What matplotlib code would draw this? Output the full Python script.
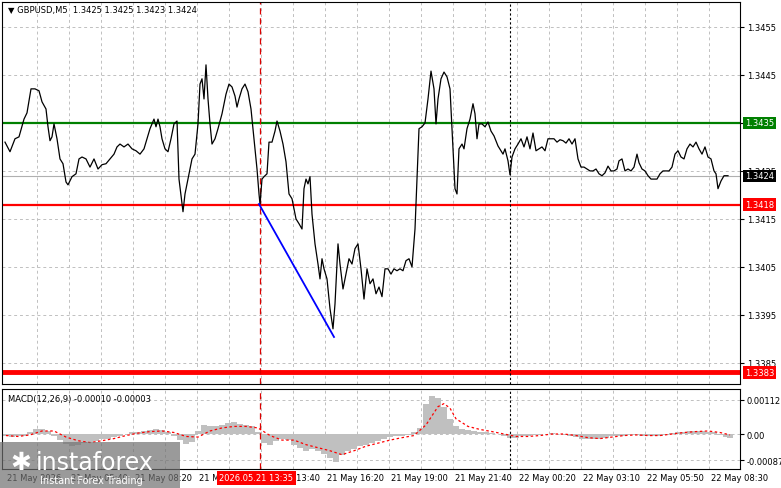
import numpy as np
import matplotlib
matplotlib.use("Agg")
import matplotlib.pyplot as plt
from matplotlib.patches import Rectangle

# ---- data ----
# time position (chart units, 2 units per M5 bar)
t_price = [3,8,13,17,22,25,29,33,37,40,44,46,48,50,52,55,58,61,64,66,70,74,77,80,84,88,92,96,100,104,108,112,115,118,122,126,130,134,138,142,145,148,150,152,154,156,158,160,163,166,169,172,175,177,180,181,183,187,190,193,196,198,200,202,204,206,208,210,213,216,220,224,227,230,233,235,237,240,243,246,249,252,255,257,258,
           260,262,265,267,270,273,275,278,281,284,287,290,294,297,300,302,304,306,308,310,313,316,318,320,322,325,328,331,333,336,338,341,344,347,350,353,356,359,362,365,368,371,374,377,380,383,386,389,392,395,398,401,404,407,410,413,415,417,420,423,426,429,432,434,436,439,442,445,448,451,453,455,457,460,462,465,468,471,473,475,477,480,483,486,489,492,496,499,501,
           503,506,508,510,513,516,519,522,525,528,531,534,537,540,543,546,549,552,555,558,561,564,567,570,573,576,579,582,585,588,591,594,597,600,603,606,609,612,615,617,620,623,626,629,632,635,637,640,643,646,649,652,655,658,661,664,667,670,673,676,679,682,685,688,691,694,697,700,703,706,709,712,714,716,719,722,726]
close = [1.34310,1.34290,1.34317,1.34321,1.34358,1.34371,1.34421,1.34421,1.34417,1.34394,1.34379,1.34342,1.34313,1.34321,1.34348,1.34317,1.34275,1.34265,1.34227,1.34221,1.34238,1.34244,1.34275,1.34279,1.34275,1.34258,1.34275,1.34254,1.34263,1.34265,1.34275,1.34285,1.34300,1.34306,1.34300,1.34306,1.34296,1.34292,1.34285,1.34296,1.34317,1.34338,1.34348,1.34358,1.34342,1.34358,1.34342,1.34317,1.34296,1.34290,1.34317,1.34348,1.34354,1.34233,1.34181,1.34165,1.34202,1.34244,1.34275,1.34285,1.34348,1.34431,1.34442,1.34400,1.34471,1.34400,1.34348,1.34306,1.34317,1.34338,1.34369,1.34410,1.34431,1.34425,1.34406,1.34383,1.34400,1.34421,1.34431,1.34415,1.34379,1.34317,1.34254,1.34202,1.34181,
         1.34233,1.34238,1.34244,1.34310,1.34310,1.34333,1.34354,1.34333,1.34306,1.34269,1.34202,1.34192,1.34150,1.34140,1.34129,1.34213,1.34233,1.34223,1.34238,1.34160,1.34098,1.34056,1.34025,1.34067,1.34046,1.34025,1.33963,1.33921,1.33973,1.34098,1.34056,1.34004,1.34035,1.34067,1.34056,1.34088,1.34098,1.34046,1.33983,1.34046,1.34015,1.34025,1.33994,1.34008,1.33988,1.34046,1.34046,1.34035,1.34046,1.34042,1.34046,1.34042,1.34063,1.34067,1.34050,1.34129,1.34233,1.34338,1.34342,1.34350,1.34400,1.34458,1.34421,1.34348,1.34400,1.34442,1.34456,1.34446,1.34421,1.34296,1.34213,1.34202,1.34296,1.34306,1.34296,1.34338,1.34358,1.34390,1.34369,1.34317,1.34348,1.34348,1.34342,1.34352,1.34333,1.34323,1.34302,1.34292,1.34285,
         1.34296,1.34271,1.34242,1.34279,1.34296,1.34306,1.34317,1.34300,1.34321,1.34296,1.34329,1.34292,1.34296,1.34300,1.34292,1.34317,1.34317,1.34317,1.34310,1.34315,1.34313,1.34308,1.34317,1.34306,1.34317,1.34275,1.34258,1.34258,1.34254,1.34250,1.34250,1.34254,1.34244,1.34240,1.34246,1.34260,1.34250,1.34250,1.34254,1.34271,1.34275,1.34250,1.34254,1.34250,1.34258,1.34285,1.34267,1.34254,1.34250,1.34240,1.34233,1.34233,1.34233,1.34244,1.34250,1.34250,1.34250,1.34258,1.34285,1.34292,1.34279,1.34275,1.34296,1.34306,1.34300,1.34310,1.34296,1.34285,1.34300,1.34279,1.34275,1.34250,1.34244,1.34213,1.34229,1.34240,1.34240]

t_macd = [4,10,16,22,28,34,40,46,52,58,64,70,76,82,88,94,100,106,112,118,124,130,136,142,148,154,160,166,172,178,184,190,196,202,208,214,220,226,232,238,244,250,256,262,268,274,280,286,292,298,304,310,316,322,328,334,340,346,352,358,364,370,376,382,388,394,400,406,412,418,424,430,436,442,448,454,460,466,472,478,484,490,496,502,508,514,520,526,532,538,544,550,556,562,568,574,580,586,592,598,604,610,616,622,628,634,640,646,652,658,664,670,676,682,688,694,700,706,712,718,724,728]
macd_main = np.array([-8,-10,-8,-5,5,15,18,10,-5,-20,-32,-38,-35,-30,-25,-22,-18,-15,-10,-5,0,5,8,10,14,16,14,8,-5,-20,-32,-25,10,30,25,25,30,35,38,32,30,28,5,-30,-35,-22,-15,-20,-35,-45,-55,-50,-55,-65,-80,-92,-70,-55,-50,-40,-35,-30,-22,-18,-10,-8,-5,-2,5,20,100,125,120,90,50,25,18,12,10,8,5,2,0,-8,-12,-12,-8,-5,-3,-2,0,2,0,-2,-5,-10,-15,-18,-18,-16,-12,-8,-5,-5,-3,-2,-5,-8,-8,-5,-2,2,5,8,10,10,10,8,5,-3,-10,-14]) * 1e-5
t_sig = [4,16,28,40,52,64,76,88,100,112,124,136,148,160,172,184,196,208,220,232,244,256,268,280,292,304,316,328,340,352,364,376,388,400,412,424,430,436,442,448,454,466,478,490,502,514,526,538,550,562,574,586,598,610,622,634,646,658,670,682,694,706,718,728]
macd_signal = np.array([-5,-8,-3,10,10,-10,-22,-28,-22,-15,-5,3,8,10,5,-8,-10,10,20,25,25,20,-5,-20,-20,-35,-45,-55,-68,-55,-40,-30,-20,-12,-5,30,60,90,100,85,50,25,15,8,0,-8,-8,-5,0,0,-5,-12,-15,-10,-5,-3,-5,-5,0,5,8,10,5,-3]) * 1e-5

levels = {"green": 1.3435, "red1": 1.3418, "red2": 1.3383}
current = 1.3424
trend_t = [257, 332]
trend_p = [1.34181, 1.33904]
yticks = [1.3385, 1.3395, 1.3405, 1.3415, 1.3425, 1.3435, 1.3445, 1.3455]
xtick_pos = [3,67,131,195,259,323,387,451,515,579,643,707]
xtick_lab = ["21 May 2026","21 May 05:40","21 May 08:20","21 May 11:00","21 May 13:40","21 May 16:20",
             "21 May 19:00","21 May 21:40","22 May 00:20","22 May 03:10","22 May 05:50","22 May 08:30"]

W, H = 781, 489
fig = plt.figure(figsize=(W/100, H/100), dpi=100)
fs = 6.0
ax = fig.add_axes([2/W, 1-385/H, 738/W, 382/H])
mx = fig.add_axes([2/W, 1-470/H, 738/W, 80/H])
for a in (ax, mx):
    a.set_xlim(0, 738)
    for s in a.spines.values():
        s.set_linewidth(0.8)
    a.yaxis.tick_right()
    a.tick_params(axis='y', length=3, labelsize=fs, pad=2)
    a.tick_params(axis='x', length=0)
    for g in list(range(35, 738, 32)):
        a.axvline(g, color='#c0c0c0', ls=(0, (3, 3)), lw=0.7, zorder=0)
ax.set_ylim(1.33806, 1.34602)
mx.set_ylim(-0.00115, 0.00148)
ax.set_xticks([]); mx.set_xticks([])
ax.set_yticks(yticks)
ax.set_yticklabels([f"{v:.4f}" for v in yticks])
for v in yticks:
    ax.axhline(v, color='#c0c0c0', ls=(0, (3, 3)), lw=0.7, zorder=0)
mx.set_yticks([0.00112, 0.0, -0.00087])
mx.set_yticklabels(["0.00112", "0.00", "-0.00087"])
for v in [0.00112, 0, -0.00087]:
    mx.axhline(v, color='#c0c0c0', ls=(0, (3, 3)), lw=0.7, zorder=0)

# main price
ax.axhline(current, color='#b0b0b0', lw=0.8, zorder=1)
ax.plot(t_price, close, color='black', lw=0.9, zorder=3)
ax.axhline(levels["green"], color='#008000', lw=1.6, zorder=2)
ax.axhline(levels["red1"], color='red', lw=1.6, zorder=2)
ax.axhline(levels["red2"], color='red', lw=3.5, zorder=2)
ax.plot(trend_t, trend_p, color='blue', lw=1.3, zorder=4)
for a in (ax, mx):
    a.axvline(258, color='#dd0000', ls=(0, (5, 3)), lw=0.9, zorder=2)
    a.axvline(508, color='black', ls=(0, (2, 2)), lw=0.8, zorder=2)

fig.text(8/W, 1-11/H, "▼ GBPUSD,M5  1.3425 1.3425 1.3423 1.3424", fontsize=fs, va='center', ha='left')
fig.text(8/W, 1-400/H, "MACD(12,26,9) -0.00010 -0.00003", fontsize=fs, va='center', ha='left')

def tag(axis, val, txt, fc):
    axis.annotate(txt, xy=(1, val), xycoords=('axes fraction', 'data'), xytext=(3.5, 0),
                  textcoords='offset points', fontsize=fs, color='white', va='center', ha='left',
                  bbox=dict(boxstyle='square,pad=0.2', fc=fc, ec='none'), annotation_clip=False)
tag(ax, levels["green"], "1.3435", '#008000')
tag(ax, current, "1.3424", 'black')
tag(ax, levels["red1"], "1.3418", 'red')
tag(ax, levels["red2"], "1.3383", 'red')

# MACD
mx.bar(t_macd, macd_main, width=6, color='#c0c0c0', zorder=1)
mx.plot(t_sig, macd_signal, color='red', ls=(0, (2, 2)), lw=0.9, zorder=3)

# time labels
for p, l in zip(xtick_pos, xtick_lab):
    fig.text((2 + p + 2)/W, 1-479/H, l, fontsize=fs, va='center', ha='left')
fig.text(219/W, 1-479/H, "2026.05.21 13:35", fontsize=fs, color='white', va='center', ha='left',
         bbox=dict(boxstyle='square,pad=0.3', fc='red', ec='none'))

# watermark
fig.patches.append(Rectangle((0, 0), 180/W, 1-(443/H), transform=fig.transFigure,
                             fc='#707070', alpha=0.7, ec='none', zorder=10))
fig.text(36/W, 1-463/H, "instaforex", fontsize=17, color='white', va='center', ha='left', zorder=11)
fig.text(40/W, 1-481/H, "Instant Forex Trading", fontsize=7, color='white', va='center', ha='left', zorder=11)
fig.text(10/W, 1-463/H, "✱", fontsize=18, color='white', va='center', ha='left', zorder=11)

fig.savefig("out.png", dpi=100)
